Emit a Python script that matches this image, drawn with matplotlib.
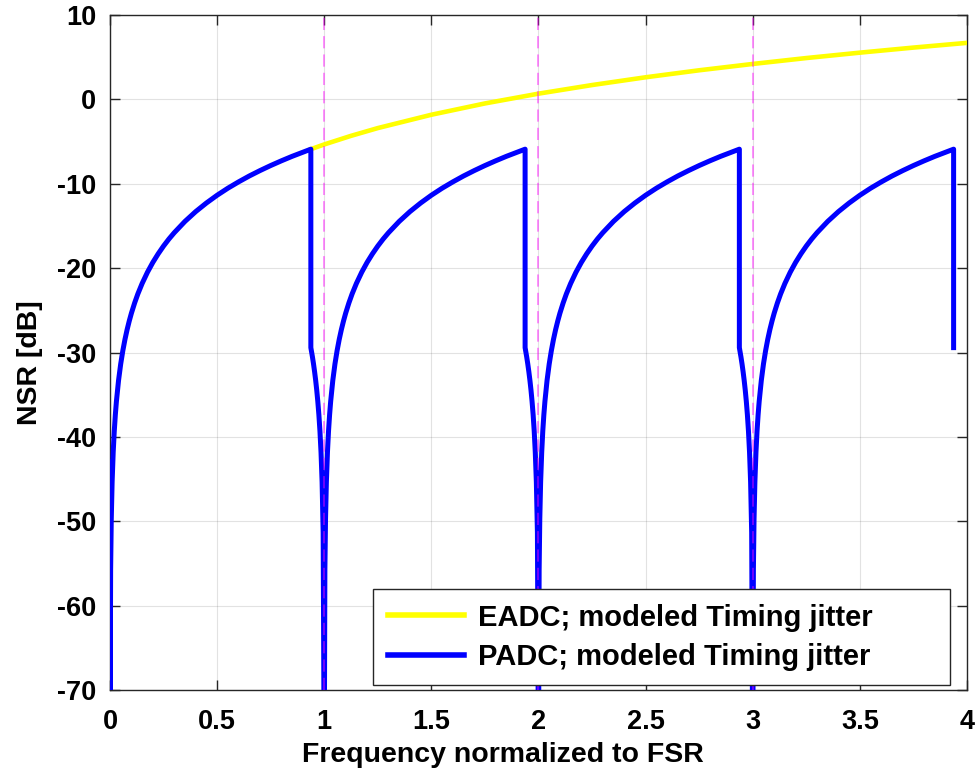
import numpy as np
import matplotlib.pyplot as plt

# EADC curve (yellow)
eadc_freq = [0.9375, 1.0, 1.125, 1.25, 1.5, 1.75, 2.0, 2.25, 2.5, 2.75, 3.0, 3.25, 3.5, 3.75, 4.0]
eadc_nsr = [-5.90, -5.34, -4.32, -3.40, -1.82, -0.48, 0.68, 1.70, 2.62, 3.45, 4.20, 4.90, 5.54, 6.14, 6.70]

# PADC curve (blue): the four arches in the plot have the same shape,
# so one arch is read (offset from its dip) and placed after each dip
arch_offset = [0.0, 0.003, 0.006, 0.01, 0.015, 0.02, 0.025, 0.03, 0.04, 0.05, 0.06, 0.07,
               0.08, 0.09, 0.1, 0.115, 0.13, 0.15, 0.175, 0.2, 0.225, 0.25, 0.275, 0.3,
               0.35, 0.4, 0.45, 0.5, 0.55, 0.6, 0.65, 0.7, 0.75, 0.8, 0.85, 0.9, 0.9375]
arch_nsr = [-80.0, -55.80, -49.78, -45.34, -41.82, -39.32, -37.38, -35.80, -33.30, -31.36,
            -29.78, -28.44, -27.28, -26.26, -25.34, -24.13, -23.06, -21.82, -20.48, -19.32,
            -18.30, -17.38, -16.55, -15.80, -14.46, -13.30, -12.28, -11.36, -10.53, -9.78,
            -9.08, -8.44, -7.84, -7.28, -6.75, -6.26, -5.90]
# falling part between the drop and the next dip (distance before that dip)
tail_offset = [0.0625, 0.055, 0.05, 0.045, 0.04, 0.035, 0.03, 0.025, 0.02, 0.015, 0.01, 0.005, 0.0]
tail_nsr = [-29.42, -30.53, -31.36, -32.28, -33.30, -34.46, -35.80, -37.38, -39.32, -41.82,
            -45.34, -51.36, -80.0]
dip_freq = [0, 1, 2, 3]
start_freq = 0.0
start_nsr = -43.0

alias_freq = [1, 2, 3]
xticks = [0, 0.5, 1, 1.5, 2, 2.5, 3, 3.5, 4]
xtick_labels = ['0', '0.5', '1', '1.5', '2', '2.5', '3', '3.5', '4']
yticks = [-70, -60, -50, -40, -30, -20, -10, 0, 10]

# assemble the blue trace
padc_freq = [start_freq]
padc_nsr = [start_nsr]
for i, d in enumerate(dip_freq):
    padc_freq += [d + u for u in arch_offset]
    padc_nsr += arch_nsr
    if i < len(dip_freq) - 1:
        nxt = dip_freq[i + 1]
        padc_freq += [nxt - v for v in tail_offset]
        padc_nsr += tail_nsr
    else:
        padc_freq.append(d + 1 - tail_offset[0])
        padc_nsr.append(tail_nsr[0])

plt.rcParams['font.family'] = ['Liberation Sans', 'DejaVu Sans']
plt.rcParams['font.weight'] = 'bold'
plt.rcParams['axes.unicode_minus'] = False

fig = plt.figure(figsize=(9.75, 7.74), dpi=100)
ax = fig.add_axes([0.1128, 0.1085, 0.8790, 0.8721])

ax.plot(eadc_freq, eadc_nsr, color=(1, 1, 0), lw=3.3, label='EADC; modeled Timing jitter', zorder=3)
ax.plot(padc_freq, padc_nsr, color=(0, 0, 1), lw=3.6, label='PADC; modeled Timing jitter', zorder=4)
for f in alias_freq:
    ax.axvline(f, color=(1, 0, 1), alpha=0.55, lw=1.1, ls=(0, (8, 4)), zorder=5)

ax.set_xlim(0, 4)
ax.set_ylim(-70, 10)
ax.set_xticks(xticks)
ax.set_xticklabels(xtick_labels)
ax.set_yticks(yticks)
ax.grid(True, color=(0.15, 0.15, 0.15), alpha=0.13, lw=0.8)
ax.tick_params(direction='in', length=7, width=1, top=True, right=True,
               labelsize=19.5, colors=(0.15, 0.15, 0.15), labelcolor='black')
ax.tick_params(axis='x', pad=14)
ax.tick_params(axis='y', pad=10)
for s in ax.spines.values():
    s.set_color((0.15, 0.15, 0.15))
    s.set_linewidth(1)

ax.set_xlabel('Frequency normalized to FSR', fontsize=20.5, fontweight='bold')
ax.set_ylabel('NSR [dB]', fontsize=20.5, fontweight='bold')
ax.xaxis.label.set_va('center')
ax.xaxis.set_label_coords(0.4586, -0.0963)
ax.yaxis.label.set_va('center')
ax.yaxis.set_label_coords(-0.093, 0.4844)

leg = ax.legend(loc='lower left', bbox_to_anchor=(0.307, 0.007, 0.673, 0.14), mode='expand',
                borderaxespad=0, fontsize=21, frameon=True, fancybox=False, framealpha=1,
                edgecolor=(0.15, 0.15, 0.15), handlelength=2.6, handletextpad=0.5,
                labelspacing=0.38, borderpad=0.5)
leg.get_frame().set_linewidth(1)
for t in leg.get_texts():
    t.set_fontweight('bold')
for h in leg.get_lines():
    h.set_linewidth(4)

fig.savefig('out.png', dpi=100)
